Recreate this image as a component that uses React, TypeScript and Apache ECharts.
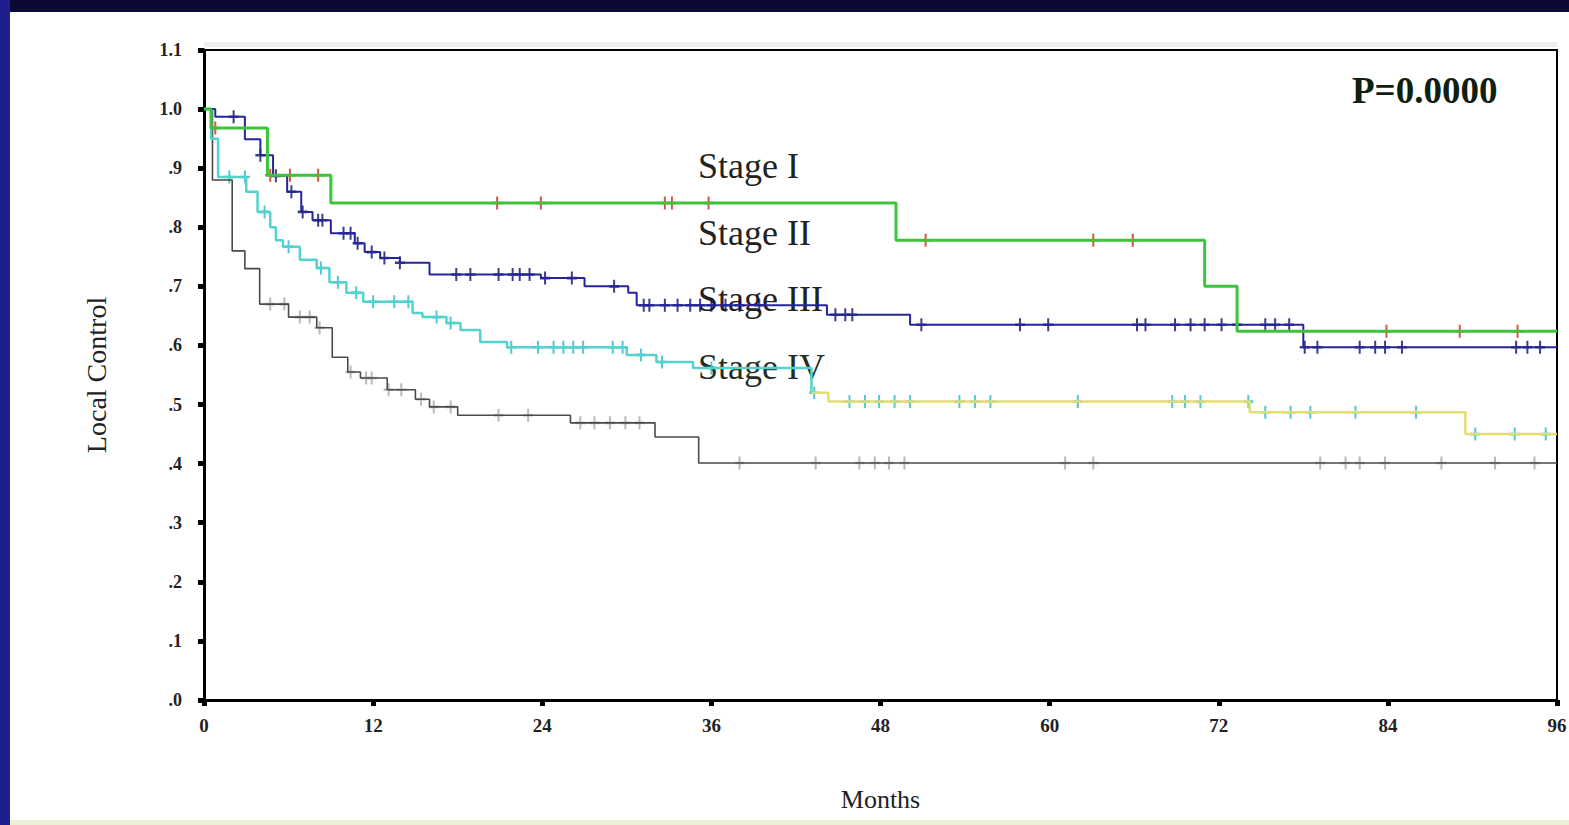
import React, { useEffect, useRef } from "react";
import * as echarts from "echarts";

// ---------- data ----------
const xTicks = [0, 12, 24, 36, 48, 60, 72, 84, 96];
const yTickLabels = [".0", ".1", ".2", ".3", ".4", ".5", ".6", ".7", ".8", ".9", "1.0", "1.1"];
const stageNames = ["Stage I", "Stage II", "Stage III", "Stage IV"];
const pValueText = "P=0.0000";

const stage1Times = [0, 0.5, 4.5, 9.0, 49.1, 71.0, 73.3, 96];
const stage1Surv = [1.0, 0.968, 0.888, 0.841, 0.778, 0.7, 0.624, 0.624];
const stage1Censor = [0.8, 4.7, 6.1, 8.1, 20.8, 23.9, 32.7, 33.2, 35.8, 51.2, 63.1, 65.9, 83.9, 89.1, 93.2];

const stage2Times = [0, 0.8, 2.9, 4.0, 4.9, 5.9, 6.9, 7.7, 9.0, 10.7, 11.4, 12.5, 13.9, 16.0, 23.9, 27.0, 30.1, 30.7, 44.2, 50.1, 78.0, 96];
const stage2Surv = [1.0, 0.987, 0.949, 0.922, 0.887, 0.86, 0.826, 0.812, 0.79, 0.773, 0.758, 0.748, 0.74, 0.72, 0.714, 0.7, 0.689, 0.668, 0.652, 0.635, 0.597, 0.597];
const stage2Censor = [2.1, 4.0, 5.1, 6.2, 7.0, 8.1, 8.4, 9.9, 10.4, 10.9, 11.9, 12.8, 13.9, 17.9, 18.9, 20.9, 21.9, 22.4, 23.1, 24.2, 26.1, 29.1, 31.2, 31.6, 32.7, 33.6, 34.5, 35.2, 36.0, 37.0, 38.0, 39.4, 44.8, 45.5, 46.0, 50.9, 57.9, 59.9, 66.2, 66.8, 68.9, 70.0, 71.0, 72.2, 73.3, 75.3, 76.0, 77.0, 78.1, 79.0, 82.0, 83.1, 83.8, 85.0, 93.1, 93.9, 94.8];

const stage3Times = [0, 0.5, 1.0, 3.0, 3.8, 4.7, 5.1, 5.6, 6.8, 8.0, 8.9, 10.1, 11.3, 14.8, 15.5, 17.2, 18.2, 19.6, 21.5, 30.0, 32.1, 34.7, 43.1, 44.3, 74.2, 89.5, 96];
const stage3Surv = [1.0, 0.95, 0.885, 0.86, 0.826, 0.8, 0.778, 0.767, 0.745, 0.731, 0.707, 0.689, 0.674, 0.655, 0.648, 0.638, 0.626, 0.606, 0.597, 0.584, 0.572, 0.562, 0.52, 0.505, 0.487, 0.45, 0.45];
const stage3Censor = [1.8, 2.9, 4.3, 6.0, 8.3, 9.5, 10.8, 12.0, 13.5, 14.5, 16.5, 17.5, 21.8, 23.7, 24.8, 25.5, 26.2, 26.9, 29.0, 29.7, 31.0, 32.5, 36.0, 43.3, 45.8, 46.9, 47.9, 49.0, 50.1, 53.6, 54.7, 55.8, 62.0, 68.7, 69.6, 70.7, 74.1, 75.3, 77.1, 78.5, 81.7, 86.0, 90.2, 93.0, 95.2];
const stage3ColourSwitch = 43.1; // line drawn cyan before, yellow after

const stage4Times = [0, 0.6, 2.0, 2.9, 3.95, 6.0, 8.0, 9.1, 10.2, 11.1, 13.0, 15.0, 16.0, 18.0, 26.0, 32.0, 35.1, 96];
const stage4Surv = [1.0, 0.88, 0.76, 0.73, 0.67, 0.648, 0.63, 0.58, 0.555, 0.545, 0.525, 0.509, 0.496, 0.482, 0.469, 0.445, 0.401, 0.401];
const stage4Censor = [4.7, 5.7, 6.8, 7.5, 8.2, 10.4, 11.5, 11.9, 13.1, 14.0, 15.4, 16.3, 17.5, 20.9, 23.0, 26.7, 27.7, 28.8, 29.9, 30.9, 38.0, 43.4, 46.5, 47.6, 48.6, 49.7, 61.1, 63.1, 79.2, 81.0, 82.0, 83.8, 87.8, 91.6, 94.4];

// ---------- helpers ----------
function survAt(times: number[], surv: number[], t: number) {
  let v = surv[0];
  for (let i = 0; i < times.length; i++) {
    if (times[i] <= t) v = surv[i];
  }
  return v;
}
const pairs = (times: number[], surv: number[]) => times.map((t, i) => [t, surv[i]]);
const censorPts = (times: number[], surv: number[], c: number[]) => c.map((t) => [t, survAt(times, surv, t)]);

const CROSS = "path://M4,0H6V4H10V6H6V10H4V6H0V4H4Z";
const SERIF = '"Liberation Serif", "Times New Roman", serif';

export default function App() {
  const ref = useRef<HTMLDivElement>(null);
  useEffect(() => {
    if (!ref.current) return;
    const chart = echarts.init(ref.current, undefined, { renderer: "svg" });
    const lineSeries = (name: string, data: number[][], color: string, width: number) => ({
      type: "line",
      name,
      step: "end",
      data,
      symbol: "none",
      lineStyle: { color, width },
      itemStyle: { color },
      silent: true,
    });
    const censorSeries = (name: string, data: number[][], color: string) => ({
      type: "scatter",
      name,
      data,
      symbol: CROSS,
      symbolSize: [10, 13],
      itemStyle: { color },
      silent: true,
    });
    const s3 = pairs(stage3Times, stage3Surv);
    const s3a = s3.filter((p) => p[0] <= stage3ColourSwitch);
    const s3b = s3.filter((p) => p[0] >= stage3ColourSwitch);
    chart.setOption({
      animation: false,
      backgroundColor: "transparent",
      grid: {
        left: 204,
        right: 12,
        top: 50,
        bottom: 125,
        show: true,
        borderColor: "#000",
        borderWidth: 2,
        containLabel: false,
        outerBoundsMode: "none",
      },
      xAxis: {
        type: "value",
        min: 0,
        max: 96,
        interval: 12,
        name: "Months",
        nameLocation: "middle",
        nameGap: 86,
        nameTextStyle: { fontFamily: SERIF, fontSize: 26, color: "#222" },
        axisLine: { lineStyle: { color: "#000", width: 3 } },
        axisTick: { length: 6, lineStyle: { color: "#000", width: 5 } },
        axisLabel: {
          margin: 16,
          fontFamily: SERIF,
          fontSize: 19,
          fontWeight: "bold",
          color: "#222",
          formatter: (v: number) => String(xTicks[Math.round(v / 12)] ?? v),
        },
        splitLine: { show: false },
      },
      yAxis: {
        type: "value",
        min: 0,
        max: 1.1,
        interval: 0.1,
        name: "Local Control",
        nameLocation: "middle",
        nameGap: 94,
        nameRotate: 90,
        nameTextStyle: { fontFamily: SERIF, fontSize: 28, color: "#222" },
        axisLine: { show: true, lineStyle: { color: "#000", width: 3 } },
        axisTick: { show: true, length: 6, lineStyle: { color: "#000", width: 5 } },
        axisLabel: {
          margin: 22,
          fontFamily: SERIF,
          fontSize: 18,
          fontWeight: "bold",
          color: "#222",
          formatter: (v: number) => yTickLabels[Math.round(v * 10)] ?? "",
        },
        splitLine: { show: false },
      },
      series: [
        lineSeries(stageNames[3], pairs(stage4Times, stage4Surv), "#4a4a4a", 1.6),
        lineSeries(stageNames[2], s3a, "#52d4cc", 2.5),
        lineSeries(stageNames[2] + " (late)", s3b, "#e4dc74", 2.5),
        lineSeries(stageNames[1], pairs(stage2Times, stage2Surv), "#26269a", 2),
        lineSeries(stageNames[0], pairs(stage1Times, stage1Surv), "#3cc43c", 3),
        censorSeries(stageNames[3] + " censored", censorPts(stage4Times, stage4Surv, stage4Censor), "#a8a8a8"),
        censorSeries(stageNames[2] + " censored", censorPts(stage3Times, stage3Surv, stage3Censor), "#27bccb"),
        censorSeries(stageNames[1] + " censored", censorPts(stage2Times, stage2Surv, stage2Censor), "#0c0c70"),
        censorSeries(stageNames[0] + " censored", censorPts(stage1Times, stage1Surv, stage1Censor), "#d02a10"),
      ],
      graphic: [
        { type: "rect", shape: { x: 204, y: 42, width: 1353, height: 5 }, style: { fill: "#efefef" }, silent: true },
        { type: "text", left: 698, top: 148, style: { text: stageNames[0], font: `36px ${SERIF}`, fill: "#222" } },
        { type: "text", left: 698, top: 215, style: { text: stageNames[1], font: `36px ${SERIF}`, fill: "#222" } },
        { type: "text", left: 698, top: 281, style: { text: stageNames[2], font: `36px ${SERIF}`, fill: "#222" } },
        { type: "text", left: 698, top: 349, style: { text: stageNames[3], font: `36px ${SERIF}`, fill: "#1f2f25" } },
        { type: "text", left: 1352, top: 72, style: { text: pValueText, font: `bold 37px ${SERIF}`, fill: "#102010" } },
      ],
    });
    return () => chart.dispose();
  }, []);

  return (
    <div style={{ position: "fixed", left: 0, top: 0, width: 1569, height: 825, background: "#0a0a34", overflow: "hidden" }}>
      <div style={{ position: "absolute", left: 0, top: 0, width: 10, height: 825, background: "#1e1e8e" }} />
      <div style={{ position: "absolute", left: 10, top: 12, right: 0, bottom: 0, background: "#ffffff" }} />
      <div style={{ position: "absolute", left: 10, right: 0, bottom: 0, height: 5, background: "#eef0d6" }} />
      <div ref={ref} style={{ position: "absolute", left: 0, top: 0, width: 1569, height: 825 }} />
    </div>
  );
}
